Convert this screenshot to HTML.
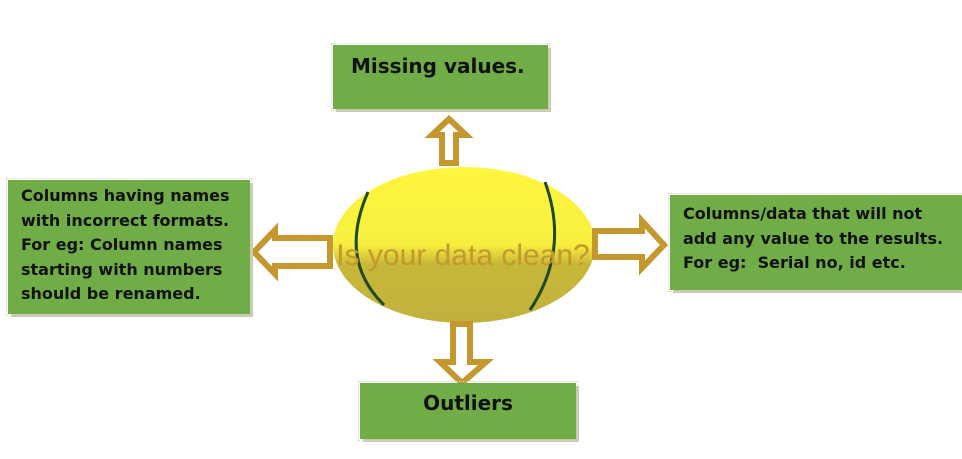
<!DOCTYPE html>
<html><head><meta charset="utf-8"><style>
body{margin:0;width:962px;height:459px;background:#fff;position:relative;overflow:hidden;font-family:"DejaVu Sans",sans-serif}
.b{position:absolute;background:#70AD47;box-shadow:3px 3px 0 #c8c8b0;outline:1px dotted #d8d8c8;outline-offset:1px}
.t{position:absolute;font-weight:bold;color:#111;font-size:16px;line-height:24.5px;letter-spacing:0px;white-space:nowrap}
</style></head><body>
<svg width="962" height="459" style="position:absolute;left:0;top:0">
<defs><linearGradient id="g" x1="0" y1="0" x2="0" y2="1">
<stop offset="0" stop-color="#fff640"/><stop offset="0.5" stop-color="#f8ee40"/><stop offset="0.62" stop-color="#c8b838"/><stop offset="1" stop-color="#c0b040"/></linearGradient></defs>
<ellipse cx="464" cy="245" rx="131" ry="78" fill="url(#g)"/>
<path d="M368 192 Q338 260 384 305" stroke="#1e4a1e" stroke-width="3" fill="none"/>
<path d="M545 182 Q570 250 530 310" stroke="#1e4a1e" stroke-width="3" fill="none"/>
<g fill="#fff" stroke="#c4982e" stroke-width="6">
<polygon points="442,163 456,163 456,135 466,135 449,119 432,135 442,135"/>
<polygon points="330,238 275,238 275,230 254,252 275,274 275,266 330,266"/>
<polygon points="595,231 642,231 642,221 664,245 642,268 642,257 595,257"/>
<polygon points="453,324 470,324 470,362 486,362 462,383 440,362 453,362"/>
</g>
<text x="463" y="265" text-anchor="middle" font-family="Liberation Sans,sans-serif" font-size="30" fill="#c4982e">Is your data clean?</text>
</svg>
<div class="b" style="left:333px;top:45px;width:215px;height:64px"></div>
<div class="t" style="left:351px;top:54px;font-size:20px">Missing values.</div>
<div class="b" style="left:8px;top:180px;width:242px;height:134px"></div>
<div class="t" style="left:21px;top:184px">Columns having names<br>with incorrect formats.<br>For eg: Column names<br>starting with numbers<br>should be renamed.</div>
<div class="b" style="left:670px;top:195px;width:292px;height:95px"></div>
<div class="t" style="left:683px;top:202px">Columns/data that will not<br>add any value to the results.<br>For eg:&nbsp; Serial no, id etc.</div>
<div class="b" style="left:360px;top:383px;width:216px;height:56px"></div>
<div class="t" style="left:360px;top:391px;width:216px;text-align:center;font-size:20px">Outliers</div>
</body></html>
